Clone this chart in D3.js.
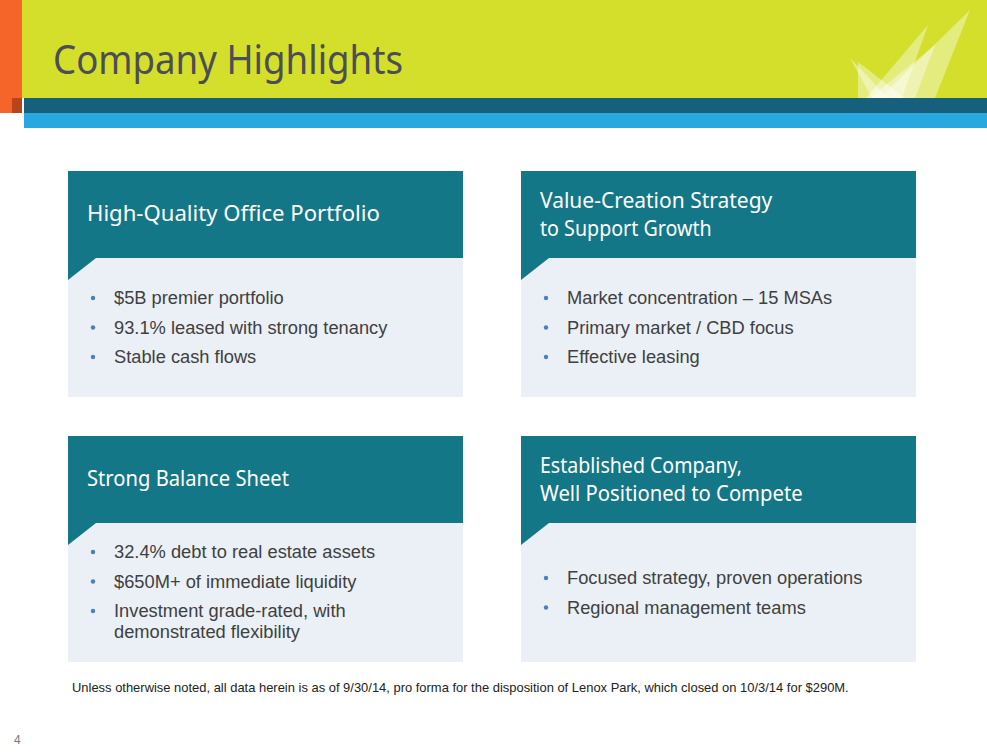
<!DOCTYPE html><html><head><meta charset="utf-8"><script src="https://cdn.jsdelivr.net/npm/d3@7"></script>
<style>body{margin:0;background:#fff}</style></head><body><svg id="s" width="987" height="752"></svg>
<script>
const titles=[["High-Quality Office Portfolio"],["Value-Creation Strategy","to Support Growth"],["Strong Balance Sheet"],["Established Company,","Well Positioned to Compete"]];
const bullets=[[["$5B premier portfolio"],["93.1% leased with strong tenancy"],["Stable cash flows"]],
[["Market concentration – 15 MSAs"],["Primary market / CBD focus"],["Effective leasing"]],
[["32.4% debt to real estate assets"],["$650M+ of immediate liquidity"],["Investment grade-rated, with","demonstrated flexibility"]],
[["Focused strategy, proven operations"],["Regional management teams"]]];
const bulletStart=[298,298,552,578];
const cols=[68,521],rows=[171,436];
const svg=d3.select("#s");
svg.append("rect").attr("x",22).attr("y",0).attr("width",965).attr("height",98).attr("fill","#d4df2b");
svg.append("rect").attr("x",24).attr("y",98).attr("width",963).attr("height",15).attr("fill","#16607e");
svg.append("rect").attr("x",24).attr("y",113).attr("width",963).attr("height",15).attr("fill","#29a8e0");
svg.append("rect").attr("x",0).attr("y",0).attr("width",22).attr("height",113).attr("fill","#f5652a");
svg.append("rect").attr("x",12).attr("y",98).attr("width",10).attr("height",15).attr("fill","#b8441a");
[[[850,58],[872,98],[888,98]],[[858,62],[858,98],[905,98]],[[866,98],[928,25],[902,98]],[[880,98],[970,10],[935,98]],[[870,98],[935,45],[915,98]]].forEach(p=>
svg.append("path").attr("d","M"+p.join("L")+"Z").attr("fill","#fff").attr("opacity",0.4));
svg.append("text").attr("x",53).attr("y",74).text("Company Highlights").attr("fill","#4d4d55")
 .attr("font-family","Noto Sans").attr("font-size",40).attr("textLength",350).attr("lengthAdjust","spacingAndGlyphs");
titles.forEach((t,i)=>{
 const x=cols[i%2],y=rows[Math.floor(i/2)],w=395,hh=87,h=226;
 svg.append("rect").attr("x",x).attr("y",y).attr("width",w).attr("height",h).attr("fill","#ebf0f7");
 svg.append("path").attr("d",`M${x},${y}H${x+w}V${y+hh}H${x+28}L${x},${y+hh+22}Z`).attr("fill","#147787");
 const ty=t.length==1?y+50:y+37;
 t.forEach((l,j)=>svg.append("text").attr("x",x+19).attr("y",ty+j*28).text(l).attr("fill","#fff")
   .attr("font-family","Noto Sans").attr("font-size",22).attr("textLength",l.length*10.1).attr("lengthAdjust","spacingAndGlyphs"));
 let by=bulletStart[i]+6;
 bullets[i].forEach(b=>{
  svg.append("circle").attr("cx",x+25).attr("cy",by-6).attr("r",2.2).attr("fill","#4a7cc7");
  b.forEach((l,j)=>{svg.append("text").attr("x",x+46).attr("y",by).text(l).attr("fill","#404040")
    .attr("font-family","Liberation Sans").attr("font-size",18.3);by+=j<b.length-1?21:0;});
  by+=29.5;
 });
});
svg.append("text").attr("x",72).attr("y",692).text("Unless otherwise noted, all data herein is as of 9/30/14, pro forma for the disposition of Lenox Park, which closed on 10/3/14 for $290M.")
 .attr("font-family","Liberation Sans").attr("font-size",12.95).attr("fill","#222");
svg.append("text").attr("x",14).attr("y",744).text("4").attr("font-family","Liberation Sans").attr("font-size",12).attr("fill","#777");
</script></body></html>
